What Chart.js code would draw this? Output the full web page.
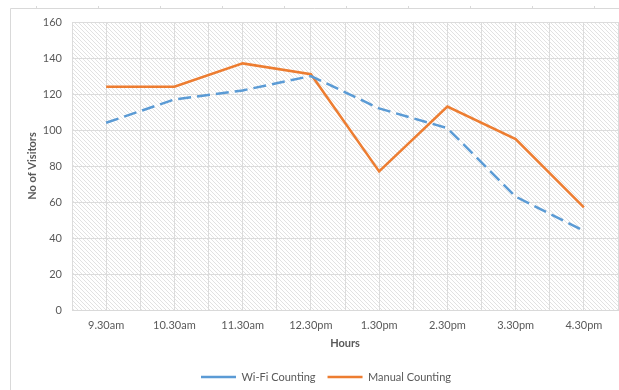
<!DOCTYPE html>
<html>
<head>
<meta charset="utf-8">
<script src="https://cdn.jsdelivr.net/npm/chart.js@4.4.1/dist/chart.umd.min.js"></script>
<style>
  html, body { margin: 0; padding: 0; background: #ffffff; overflow: hidden; }
  #wrap { width: 619px; height: 390px; }
</style>
</head>
<body>
<div id="wrap"><canvas id="c" width="619" height="390"></canvas></div>
<script>
// Hourly visitor counts: Wi-Fi based vs. manual counting
const hours = ['9.30am', '10.30am', '11.30am', '12.30pm', '1.30pm', '2.30pm', '3.30pm', '4.30pm'];
const wifiCounts = [104, 117, 122, 130, 112, 101, 63, 44];
const manualCounts = [124, 124, 137, 131, 77, 113, 95, 57];
const visitorAxis = { min: 0, max: 160, step: 20 };

const FONT = 'Lato, "Liberation Sans", sans-serif';
const TEXT = '#595959';
const GRID = '#dcdcdc';

// Diagonal hatch used as the plot-area fill
function makeHatch(ctx) {
  const t = document.createElement('canvas');
  t.width = 4; t.height = 4;
  const g = t.getContext('2d');
  g.fillStyle = '#ffffff';
  g.fillRect(0, 0, 4, 4);
  g.strokeStyle = '#e2e2e2';
  g.lineWidth = 1;
  g.beginPath();
  g.moveTo(-1, -1); g.lineTo(5, 5);
  g.moveTo(-1, 3); g.lineTo(1, 5);
  g.moveTo(3, -1); g.lineTo(5, 1);
  g.stroke();
  return ctx.createPattern(t, 'repeat');
}

const plotFill = {
  id: 'plotFill',
  beforeDraw(chart) {
    const { ctx, chartArea: a } = chart;
    ctx.save();
    ctx.fillStyle = makeHatch(ctx);
    ctx.fillRect(a.left, a.top, a.right - a.left, a.bottom - a.top);
    ctx.restore();
  }
};

// Outer frame of the chart object (top and left edges with small ruler ticks)
const frame = {
  id: 'frame',
  afterDraw(chart) {
    const ctx = chart.ctx;
    ctx.save();
    ctx.strokeStyle = '#d9d9d9';
    ctx.lineWidth = 1;
    ctx.beginPath();
    ctx.moveTo(10.5, 390); ctx.lineTo(10.5, 8.5); ctx.lineTo(619, 8.5);
    for (let x = 36.5; x < 619; x += 62) { ctx.moveTo(x, 8.5); ctx.lineTo(x, 6); }
    ctx.stroke();
    ctx.restore();
  }
};

// Place the legend row under the axis title
const legendPlace = {
  id: 'legendPlace',
  afterLayout(chart) {
    const lg = chart.legend;
    if (!lg || !lg.lineWidths) return;
    const pad = lg.options.labels.padding;
    const fs = lg.options.labels.font.size;
    const start = (lg.left + pad + lg.right - lg.lineWidths[0]) / 2;
    const dx = 201 - start;
    lg.left += dx; lg.right += dx;
    const h = lg.height;
    lg.top = 377 - pad - fs / 2;
    lg.bottom = lg.top + h;
  }
};

const pts = (vals) => vals.map((v, i) => ({ x: i, y: v }));

new Chart(document.getElementById('c'), {
  type: 'line',
  data: {
    datasets: [
      {
        label: 'Wi-Fi Counting',
        data: pts(wifiCounts),
        borderColor: '#5b9bd5',
        backgroundColor: '#5b9bd5',
        borderWidth: 2.5,
        borderDash: [13, 6],
        borderCapStyle: 'butt',
        pointRadius: 0,
        tension: 0,
        fill: false
      },
      {
        label: 'Manual Counting',
        data: pts(manualCounts),
        borderColor: '#ed7d31',
        backgroundColor: '#ed7d31',
        borderWidth: 2.5,
        pointRadius: 0,
        tension: 0,
        fill: false
      }
    ]
  },
  options: {
    responsive: false,
    animation: false,
    layout: { padding: { left: 10, top: 22, right: 1, bottom: 0 } },
    plugins: {
      tooltip: { enabled: false },
      legend: {
        position: 'bottom',
        labels: {
          usePointStyle: true,
          pointStyle: 'line',
          pointStyleWidth: 35,
          padding: 12,
          color: TEXT,
          font: { family: FONT, size: 11 }
        }
      }
    },
    scales: {
      x: {
        type: 'linear',
        min: -0.5,
        max: hours.length - 0.5,
        afterFit(s) { s.height = 47; },
        afterBuildTicks(s) {
          const t = [];
          for (let v = -0.5; v <= hours.length - 0.5 + 1e-9; v += 0.5) t.push({ value: v });
          s.ticks = t;
        },
        ticks: {
          autoSkip: false,
          maxRotation: 0,
          padding: 0,
          color: TEXT,
          font: { family: FONT, size: 11 },
          callback: (v) => (Number.isInteger(v) ? hours[v] : '')
        },
        grid: { color: GRID, lineWidth: 1, drawTicks: true, tickLength: 9, tickColor: 'rgba(0,0,0,0)' },
        border: { color: '#d9d9d9' },
        title: {
          display: true,
          text: 'Hours',
          color: TEXT,
          font: { family: FONT, size: 11, weight: 'bold' },
          padding: { top: 0, bottom: 7 }
        }
      },
      y: {
        min: visitorAxis.min,
        max: visitorAxis.max,
        afterFit(s) { s.width = 62; },
        ticks: {
          stepSize: visitorAxis.step,
          padding: 10,
          color: TEXT,
          font: { family: FONT, size: 11 }
        },
        grid: { color: GRID, lineWidth: 1, drawTicks: false },
        border: { display: false },
        title: {
          display: true,
          text: 'No of Visitors',
          color: TEXT,
          font: { family: FONT, size: 11, weight: 'bold' },
          padding: { top: 16, bottom: 0 }
        }
      }
    }
  },
  plugins: [plotFill, frame, legendPlace]
});
</script>
</body>
</html>
